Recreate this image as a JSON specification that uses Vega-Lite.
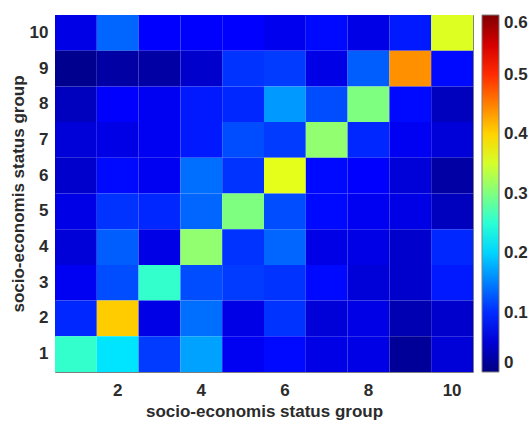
{
  "$schema": "https://vega.github.io/schema/vega-lite/v6.json",
  "autosize": {"type": "none"},
  "padding": {"left": 55, "top": 15, "right": 57, "bottom": 52},
  "width": 418,
  "height": 357,
  "background": "white",
  "config": {
    "view": {"stroke": "#7f7f7f", "strokeWidth": 1},
    "font": "Liberation Sans",
    "axis": {"labelFont": "Liberation Sans", "titleFont": "Liberation Sans", "labelFontWeight": "bold", "titleFontWeight": "bold", "labelColor": "#2b2b2b", "titleColor": "#2b2b2b", "labelFontSize": 17, "titleFontSize": 17, "domain": false, "ticks": false, "grid": false},
    "legend": {"labelFont": "Liberation Sans", "labelFontWeight": "bold", "labelColor": "#2b2b2b", "labelFontSize": 17}
  },
  "data": {"values": [
    {"y":10,"x":1,"v":0.06},{"y":10,"x":2,"v":0.135},{"y":10,"x":3,"v":0.075},{"y":10,"x":4,"v":0.075},{"y":10,"x":5,"v":0.075},{"y":10,"x":6,"v":0.065},{"y":10,"x":7,"v":0.08},{"y":10,"x":8,"v":0.06},{"y":10,"x":9,"v":0.09},{"y":10,"x":10,"v":0.355},
    {"y":9,"x":1,"v":0.008},{"y":9,"x":2,"v":0.022},{"y":9,"x":3,"v":0.022},{"y":9,"x":4,"v":0.045},{"y":9,"x":5,"v":0.105},{"y":9,"x":6,"v":0.11},{"y":9,"x":7,"v":0.06},{"y":9,"x":8,"v":0.13},{"y":9,"x":9,"v":0.44},{"y":9,"x":10,"v":0.08},
    {"y":8,"x":1,"v":0.037},{"y":8,"x":2,"v":0.075},{"y":8,"x":3,"v":0.068},{"y":8,"x":4,"v":0.09},{"y":8,"x":5,"v":0.098},{"y":8,"x":6,"v":0.165},{"y":8,"x":7,"v":0.12},{"y":8,"x":8,"v":0.3},{"y":8,"x":9,"v":0.08},{"y":8,"x":10,"v":0.037},
    {"y":7,"x":1,"v":0.052},{"y":7,"x":2,"v":0.06},{"y":7,"x":3,"v":0.068},{"y":7,"x":4,"v":0.09},{"y":7,"x":5,"v":0.12},{"y":7,"x":6,"v":0.11},{"y":7,"x":7,"v":0.31},{"y":7,"x":8,"v":0.098},{"y":7,"x":9,"v":0.068},{"y":7,"x":10,"v":0.052},
    {"y":6,"x":1,"v":0.045},{"y":6,"x":2,"v":0.08},{"y":6,"x":3,"v":0.068},{"y":6,"x":4,"v":0.14},{"y":6,"x":5,"v":0.105},{"y":6,"x":6,"v":0.36},{"y":6,"x":7,"v":0.08},{"y":6,"x":8,"v":0.075},{"y":6,"x":9,"v":0.052},{"y":6,"x":10,"v":0.022},
    {"y":5,"x":1,"v":0.06},{"y":5,"x":2,"v":0.105},{"y":5,"x":3,"v":0.098},{"y":5,"x":4,"v":0.135},{"y":5,"x":5,"v":0.3},{"y":5,"x":6,"v":0.12},{"y":5,"x":7,"v":0.08},{"y":5,"x":8,"v":0.068},{"y":5,"x":9,"v":0.06},{"y":5,"x":10,"v":0.037},
    {"y":4,"x":1,"v":0.052},{"y":4,"x":2,"v":0.13},{"y":4,"x":3,"v":0.06},{"y":4,"x":4,"v":0.31},{"y":4,"x":5,"v":0.105},{"y":4,"x":6,"v":0.135},{"y":4,"x":7,"v":0.06},{"y":4,"x":8,"v":0.06},{"y":4,"x":9,"v":0.045},{"y":4,"x":10,"v":0.098},
    {"y":3,"x":1,"v":0.068},{"y":3,"x":2,"v":0.12},{"y":3,"x":3,"v":0.255},{"y":3,"x":4,"v":0.12},{"y":3,"x":5,"v":0.11},{"y":3,"x":6,"v":0.105},{"y":3,"x":7,"v":0.08},{"y":3,"x":8,"v":0.052},{"y":3,"x":9,"v":0.045},{"y":3,"x":10,"v":0.09},
    {"y":2,"x":1,"v":0.098},{"y":2,"x":2,"v":0.405},{"y":2,"x":3,"v":0.06},{"y":2,"x":4,"v":0.14},{"y":2,"x":5,"v":0.06},{"y":2,"x":6,"v":0.105},{"y":2,"x":7,"v":0.052},{"y":2,"x":8,"v":0.06},{"y":2,"x":9,"v":0.03},{"y":2,"x":10,"v":0.045},
    {"y":1,"x":1,"v":0.255},{"y":1,"x":2,"v":0.21},{"y":1,"x":3,"v":0.11},{"y":1,"x":4,"v":0.17},{"y":1,"x":5,"v":0.068},{"y":1,"x":6,"v":0.08},{"y":1,"x":7,"v":0.06},{"y":1,"x":8,"v":0.06},{"y":1,"x":9,"v":0.015},{"y":1,"x":10,"v":0.052}
  ]},
  "mark": {"type": "rect", "strokeWidth": 0},
  "encoding": {
    "x": {"field": "x", "type": "ordinal", "scale": {"paddingInner": 0, "paddingOuter": 0},
          "axis": {"values": [2,4,6,8,10], "labelAngle": 0, "labelPadding": 10, "title": "socio-economis status group", "titlePadding": 5}},
    "y": {"field": "y", "type": "ordinal", "sort": "descending", "scale": {"paddingInner": 0, "paddingOuter": 0},
          "axis": {"labelPadding": 7, "title": "socio-economis status group", "titlePadding": 2}},
    "color": {"field": "v", "type": "quantitative",
      "scale": {"type": "linear", "domain": [0, 0.075, 0.225, 0.375, 0.525, 0.6], "range": ["#000080", "#0000ff", "#00ffff", "#ffff00", "#ff0000", "#800000"], "interpolate": "rgb", "clamp": true},
      "legend": {"orient": "none", "legendX": 427, "legendY": 0, "title": null, "direction": "vertical", "gradientLength": 357, "gradientThickness": 17, "gradientStrokeColor": "#7f7f7f", "gradientStrokeWidth": 1, "values": [0, 0.1, 0.2, 0.3, 0.4, 0.5, 0.6], "labelBaseline": "middle", "labelOffset": 5, "labelOverlap": false, "format": ".1~f"}}
  }
}
